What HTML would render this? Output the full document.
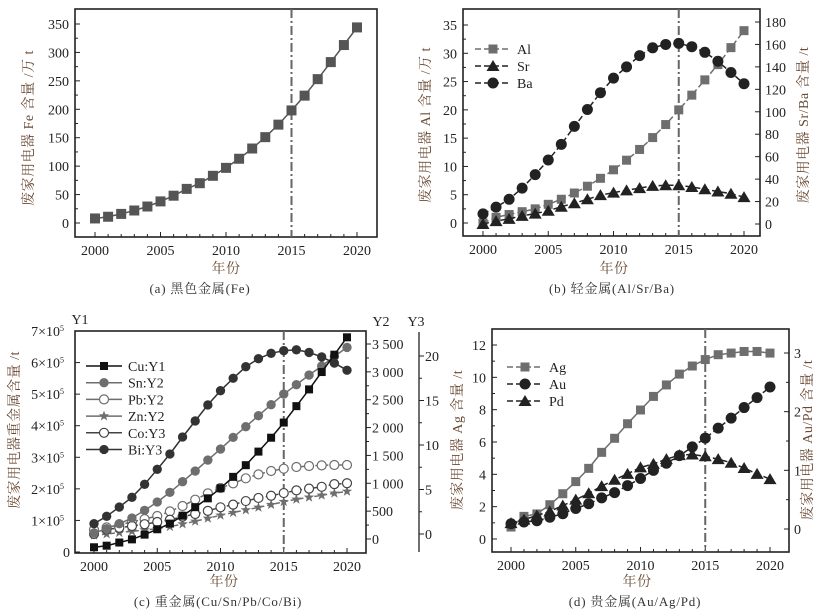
<!DOCTYPE html>
<html><head><meta charset="utf-8"><style>
html,body{margin:0;padding:0;background:#fff}
svg{display:block;font-family:"Liberation Serif","Noto Serif CJK SC","Noto Sans CJK SC",serif}
.tk{font-size:14px;fill:#222}
.tt{font-size:14px;fill:#6b4a34;letter-spacing:0.5px}
.cap{font-size:13px;fill:#333;letter-spacing:0.8px}
</style></head><body>
<svg id="chart" width="827" height="616" viewBox="0 0 827 616" xmlns="http://www.w3.org/2000/svg"></svg>
<script>
const years=[2000,2001,2002,2003,2004,2005,2006,2007,2008,2009,2010,2011,2012,2013,2014,2015,2016,2017,2018,2019,2020];
const feVals=[8,11,16,22,29,38,48,60,70,83,97,113,131,151,173,198,224,253,283,313,344];
const alVals=[0,1,1.5,2,2.5,3.3,4.2,5.3,6.5,7.9,9.4,11.1,13,15.1,17.4,20,22.6,25.3,28,31,34];
const srVals=[0,2.6,4.6,7.2,9.3,11.8,15.4,18.5,22,25.7,28,30,32,34,34.5,34.5,33,31,29,27,24];
const baVals=[9,15,22,32,44,57,71,87,102,117,130,140,150,157,160,161,158,153,145,135,125];
const cuVals=[0.15,0.2,0.3,0.4,0.55,0.72,0.9,1.15,1.42,1.7,2.02,2.38,2.75,3.18,3.62,4.1,4.62,5.15,5.7,6.25,6.8];
const snVals=[108,185,275,377,514,664,837,1029,1220,1417,1614,1824,2015,2213,2410,2601,2769,2943,3104,3277,3439];
const pbVals=[167,209,257,305,359,413,496,592,706,819,915,999,1089,1160,1220,1262,1292,1310,1322,1328,1328];
const znVals=[66,90,114,138,161,185,221,269,317,371,425,473,520,568,616,670,712,748,784,820,855];
const coVals=[0,0.5,0.7,0.9,1.1,1.35,1.6,1.95,2.25,2.6,3.0,3.3,3.7,4.05,4.3,4.6,4.9,5.1,5.3,5.6,5.7];
const biVals=[1.16,1.99,3.03,4.12,5.58,7.27,8.99,10.9,12.7,14.5,16.1,17.5,18.8,19.7,20.3,20.6,20.7,20.4,19.9,19.2,18.4];
const agVals=[0.74,1.4,1.55,2.12,2.8,3.55,4.37,5.36,6.23,7.13,7.98,8.82,9.53,10.2,10.7,11.1,11.4,11.5,11.6,11.6,11.5];
const auVals=[0.09,0.12,0.14,0.2,0.26,0.35,0.43,0.53,0.62,0.74,0.86,1.0,1.12,1.25,1.4,1.55,1.72,1.89,2.07,2.24,2.42];
const pdVals=[0.1,0.16,0.23,0.3,0.4,0.5,0.61,0.73,0.84,0.94,1.05,1.11,1.19,1.26,1.27,1.24,1.19,1.13,1.04,0.94,0.85];
const xTicks=[2000,2005,2010,2015,2020];
const feTicks=[0,50,100,150,200,250,300,350];
const alTicks=[0,5,10,15,20,25,30,35];
const bRightTicks=[0,20,40,60,80,100,120,140,160,180];
const cY1Ticks=[0,1,2,3,4,5,6,7];
const cY2Ticks=[0,500,1000,1500,2000,2500,3000,3500];
const cY2Labels=["0","500","1 000","1 500","2 000","2 500","3 000","3 500"];
const cY3Ticks=[0,5,10,15,20];
const agTicks=[0,2,4,6,8,10,12];
const dRightTicks=[0,1,2,3];

const NS="http://www.w3.org/2000/svg";
const svg=document.getElementById('chart');
function el(tag,a,p){const e=document.createElementNS(NS,tag);for(const k in a)e.setAttribute(k,a[k]);(p||svg).appendChild(e);return e;}
function lin(d0,d1,r0,r1){return v=>r0+(v-d0)*(r1-r0)/(d1-d0);}
function txt(s,x,y,cls,anchor,p,rot){const t=el('text',{x:x,y:y,class:cls,'text-anchor':anchor||'middle'},p);if(rot)t.setAttribute('transform','rotate(-90 '+x+' '+y+')');t.textContent=s;return t;}

function frame(g,x0,x1,y0,y1,sx){
  const r=el('rect',{x:x0,y:y0,width:x1-x0,height:y1-y0,fill:'none',stroke:'#222','stroke-width':1.6},g);
  
  
  for(const y of years){const X=sx(y);const big=xTicks.includes(y);el('line',{x1:X,x2:X,y1:y1,y2:y1-(big?5:3),stroke:'#222'},g);}
  for(const t of xTicks){const l=txt(String(t),sx(t),y1+18,'tk','middle',g);
    
    }
  const v=el('line',{x1:sx(2015),x2:sx(2015),y1:y0,y2:y1,stroke:'#666','stroke-width':2,'stroke-dasharray':'9,3,2,3'},g);
  
  
}
function yAxis(g,x,ticks,labels,sy,side,minor){
  ticks.forEach((t,i)=>{const Y=sy(t);
    if(side==='left'){el('line',{x1:x,x2:x+5,y1:Y,y2:Y,stroke:'#222'},g);txt(labels[i],x-6,Y+5,'tk','end',g);}
    else if(side==='rightin'){el('line',{x1:x,x2:x-5,y1:Y,y2:Y,stroke:'#222'},g);txt(labels[i],x+5,Y+5,'tk','start',g);}
    else {el('line',{x1:x,x2:x+5,y1:Y,y2:Y,stroke:'#222'},g);txt(labels[i],x+6,Y+5,'tk','start',g);}
    if(minor&&i<ticks.length-1){const Ym=sy((t+ticks[i+1])/2);el('line',{x1:x,x2:x+(side==='rightin'?-3:3),y1:Ym,y2:Ym,stroke:'#222'},g);}
  });
}
function marker(g,type,x,y,color,s){
  s=s||1;let m;
  if(type==='sq')m=el('rect',{x:x-5*s,y:y-5*s,width:10*s,height:10*s,fill:color},g);
  else if(type==='sqs')m=el('rect',{x:x-4*s,y:y-4*s,width:8*s,height:8*s,fill:color},g);
  else if(type==='ci')m=el('circle',{cx:x,cy:y,r:5.5*s,fill:color},g);
  else if(type==='oc')m=el('circle',{cx:x,cy:y,r:4.5*s,fill:'#fff',stroke:color,'stroke-width':1.2},g);
  else if(type==='tr')m=el('path',{d:`M${x} ${y-6*s}L${x+6.5*s} ${y+5*s}L${x-6.5*s} ${y+5*s}Z`,fill:color},g);
  else if(type==='st'){let d='';for(let i=0;i<10;i++){const r=i%2?2.2:5.5;const a=-Math.PI/2+i*Math.PI/5;d+=(i?'L':'M')+(x+r*Math.cos(a)).toFixed(1)+' '+(y+r*Math.sin(a)).toFixed(1);}m=el('path',{d:d+'Z',fill:color},g);}
  return m;
}
function series(g,name,vals,sx,sy,type,color,dash,s){
  const sg=el('g',{},g);
  
  
  const pts=years.map((y,i)=>sx(y).toFixed(1)+','+sy(vals[i]).toFixed(1)).join(' ');
  el('polyline',{points:pts,fill:'none',stroke:color,'stroke-width':1.5,'stroke-dasharray':dash||'none'},sg);
  years.forEach((y,i)=>{const m=marker(sg,type,sx(y),sy(vals[i]),color,s);
    
    });
}
function legend(g,x,y,gap,items){
  items.forEach((it,i)=>{const Y=y+i*gap;
    const lg=el('g',{},g);
    
    
    el('line',{x1:x,x2:x+36,y1:Y,y2:Y,stroke:it[2],'stroke-width':1.5,'stroke-dasharray':it[3]||'none'},lg);
    marker(lg,it[1],x+18,Y,it[2],it[4]||1);
    txt(it[0],x+42,Y+5,'tk','start',lg);});
}
const GR='#6e6e6e';

// Panel A
{const g=el('g',{});
 const sx=lin(2000,2020,95,357),sy=lin(0,350,223,24);
 frame(g,75,377,9,237,sx);
 yAxis(g,75,feTicks,feTicks.map(String),sy,'left',true);
 series(g,'fe',feVals,sx,sy,'sq','#555');
 txt('废家用电器 Fe 含量 /万 t',33,128,'tt','middle',g,true);
 txt('年份',226,273,'tt','middle',g);
 txt('(a) 黑色金属(Fe)',200,293,'cap','middle',g);}

// Panel B
{const g=el('g',{});
 const sx=lin(2000,2020,483,744),sy=lin(0,35,223,25),sr=lin(0,180,224,22);
 frame(g,463,760,9,236,sx);
 yAxis(g,463,alTicks,alTicks.map(String),sy,'left',true);
 yAxis(g,760,bRightTicks,bRightTicks.map(String),sr,'rightin',false);
 series(g,'al',alVals,sx,sy,'sq',GR,'6,3',0.9);
 series(g,'sr',srVals,sx,sr,'tr','#222','6,3');
 series(g,'ba',baVals,sx,sr,'ci','#222','6,3');
 legend(g,475,49,17,[['Al','sq',GR,'6,3',0.9],['Sr','tr','#222','6,3'],['Ba','ci','#222','6,3']]);
 txt('废家用电器 Al 含量 /万 t',430,125,'tt','middle',g,true);
 txt('废家用电器 Sr/Ba 含量 /t',808,125,'tt','middle',g,true);
 txt('年份',614,273,'tt','middle',g);
 txt('(b) 轻金属(Al/Sr/Ba)',612,293,'cap','middle',g);}

// Panel C
{const g=el('g',{});
 const sx=lin(2000,2020,94,347),s1=lin(0,7,552,331),s2=lin(0,3500,539,344),s3=lin(0,20,534,356);
 frame(g,75,366,331,553,sx);
 cY1Ticks.forEach(t=>{const Y=s1(t);el('line',{x1:75,x2:80,y1:Y,y2:Y,stroke:'#222'},g);
   const l=txt(t===0?'0':t+'×10',t===0?70:64,Y+5,'tk','end',g);
   if(t){const sp=el('tspan',{dy:-5,'font-size':8},l);sp.textContent='5';}});
 yAxis(g,366,cY2Ticks,cY2Labels,s2,'right',true);
 el('line',{x1:419,x2:419,y1:332,y2:552,stroke:'#222','stroke-width':1.3},g);
 yAxis(g,419,cY3Ticks,cY3Ticks.map(String),s3,'right',true);
 series(g,'pb',pbVals,sx,s2,'oc',GR,'5,3');
 series(g,'zn',znVals,sx,s2,'st',GR,'5,3');
 series(g,'co',coVals,sx,s3,'oc','#444','5,3');
 series(g,'sn',snVals,sx,s2,'ci',GR,null,0.85);
 series(g,'bi',biVals,sx,s3,'ci','#333',null,0.85);
 series(g,'cu',cuVals,sx,s1,'sqs','#111');
 legend(g,86,366,16.7,[['Cu:Y1','sqs','#111'],['Sn:Y2','ci',GR,null,0.85],['Pb:Y2','oc',GR],['Zn:Y2','st',GR],['Co:Y3','oc','#444'],['Bi:Y3','ci','#333',null,0.85]]);
 txt('Y1',80,324,'tk','middle',g);txt('Y2',381,326,'tk','middle',g);txt('Y3',416,326,'tk','middle',g);
 txt('废家用电器重金属含量 /t',19,430,'tt','middle',g,true);
 txt('年份',224,586,'tt','middle',g);
 txt('(c) 重金属(Cu/Sn/Pb/Co/Bi)',218,606,'cap','middle',g);}

// Panel D
{const g=el('g',{});
 const sx=lin(2000,2020,511,770),sy=lin(0,12,539,345),sr=lin(0,3,529,353);
 frame(g,492,789,329,552,sx);
 yAxis(g,492,agTicks,agTicks.map(String),sy,'left',true);
 yAxis(g,789,dRightTicks,dRightTicks.map(String),sr,'rightin',true);
 series(g,'ag',agVals,sx,sy,'sq',GR,null,0.9);
 series(g,'au',auVals,sx,sr,'ci','#222','6,3');
 series(g,'pd',pdVals,sx,sr,'tr','#222','6,3');
 legend(g,507,367,17,[['Ag','sq',GR,'6,3',0.9],['Au','ci','#222','6,3'],['Pd','tr','#222','6,3']]);
 txt('废家用电器 Ag 含量 /t',462,440,'tt','middle',g,true);
 txt('废家用电器 Au/Pd 含量 /t',812,440,'tt','middle',g,true);
 txt('年份',637,586,'tt','middle',g);
 txt('(d) 贵金属(Au/Ag/Pd)',635,606,'cap','middle',g);}
</script>
</body></html>
